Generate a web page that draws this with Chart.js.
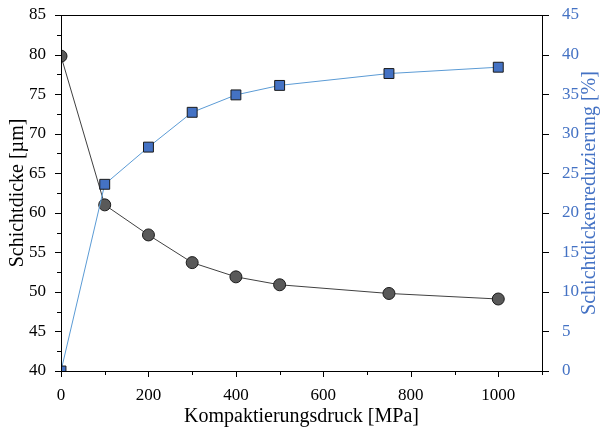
<!DOCTYPE html>
<html><head><meta charset="utf-8">
<script src="https://cdn.jsdelivr.net/npm/chart.js@4/dist/chart.umd.min.js"></script>
<style>html,body{margin:0;padding:0;background:#fff}#wrap{width:600px;height:427px}</style>
</head><body><div id="wrap"><canvas id="c" width="600" height="427"></canvas></div>
<script>
const pressure = [0, 100, 200, 300, 400, 500, 750, 1000];
const thickness = [79.8, 61.0, 57.2, 53.7, 51.9, 50.9, 49.8, 49.1];
const reduction = [0, 23.6, 28.3, 32.7, 34.9, 36.1, 37.6, 38.4];
const xTickLabels = [0, 200, 400, 600, 800, 1000];
const leftTickLabels = [40, 45, 50, 55, 60, 65, 70, 75, 80, 85];
const rightTickLabels = [0, 5, 10, 15, 20, 25, 30, 35, 40, 45];
const rightTitle = 'Schichtdickenreduzierung [%]';

const FONT = "'Liberation Serif','Times New Roman',serif";
const BLUE_TXT = '#4472C4';

const tickPlugin = {
  id: 'ticksBox',
  afterDraw(chart) {
    const ctx = chart.ctx, a = chart.chartArea;
    ctx.save();
    ctx.strokeStyle = '#000';
    ctx.lineWidth = 1;
    ctx.strokeRect(a.left + 0.5, a.top + 0.5, a.right - a.left, a.bottom - a.top);
    const xs = chart.scales.x;
    xs.ticks.forEach(t => {
      const px = Math.round(xs.getPixelForValue(t.value)) + 0.5;
      const len = xTickLabels.includes(t.value) ? 6 : 4;
      ctx.beginPath(); ctx.moveTo(px, a.bottom); ctx.lineTo(px, a.bottom + len); ctx.stroke();
    });
    const yl = chart.scales.y;
    yl.ticks.forEach(t => {
      const py = Math.round(yl.getPixelForValue(t.value)) + 0.5;
      const len = leftTickLabels.includes(t.value) ? 6 : 4;
      ctx.beginPath(); ctx.moveTo(a.left, py); ctx.lineTo(a.left - len, py); ctx.stroke();
    });
    const yr = chart.scales.y2;
    yr.ticks.forEach(t => {
      const py = Math.round(yr.getPixelForValue(t.value)) + 0.5;
      ctx.beginPath(); ctx.moveTo(a.right + 1, py); ctx.lineTo(a.right + 7, py); ctx.stroke();
    });
    // right axis title, reading bottom-to-top
    ctx.translate(590, (a.top + a.bottom) / 2);
    ctx.rotate(-Math.PI / 2);
    ctx.fillStyle = BLUE_TXT;
    ctx.font = "20px " + FONT;
    ctx.textAlign = 'center';
    ctx.textBaseline = 'middle';
    ctx.fillText(rightTitle, 0, 0);
    ctx.restore();
  }
};

function fixV(w) {
  return s => { s.width = w; s.paddingTop = 0; s.paddingBottom = 0; };
}

new Chart(document.getElementById('c'), {
  type: 'scatter',
  data: {
    datasets: [
      {
        label: 'Schichtdicke',
        data: pressure.map((p, i) => ({x: p, y: thickness[i]})),
        yAxisID: 'y',
        showLine: true,
        borderColor: '#404040',
        borderWidth: 1,
        pointStyle: 'circle',
        pointRadius: 6,
        pointBackgroundColor: '#595959',
        pointBorderColor: '#1a1a1a',
        pointBorderWidth: 1,
        order: 2
      },
      {
        label: 'Schichtdickenreduzierung',
        data: pressure.map((p, i) => ({x: p, y: reduction[i]})),
        yAxisID: 'y2',
        showLine: true,
        borderColor: '#5B9BD5',
        borderWidth: 1,
        pointStyle: 'rect',
        pointRadius: 7,
        pointBackgroundColor: '#4472C4',
        pointBorderColor: '#1a1a1a',
        pointBorderWidth: 1,
        order: 1
      }
    ]
  },
  options: {
    responsive: false,
    animation: false,
    devicePixelRatio: 1,
    layout: {padding: {top: 15, left: 0, right: 0, bottom: 0}},
    plugins: {legend: {display: false}, tooltip: {enabled: false}},
    scales: {
      x: {
        type: 'linear', min: 0, max: 1100,
        grid: {display: false},
        border: {display: false},
        ticks: {
          stepSize: 100, autoSkip: false, maxRotation: 0, padding: 6,
          color: '#000', font: {family: FONT, size: 17},
          callback: v => xTickLabels.includes(v) ? String(v) : ''
        },
        title: {display: true, text: 'Kompaktierungsdruck [MPa]', color: '#000',
                font: {family: FONT, size: 20}, padding: {top: 2, bottom: -2}},
        afterFit: s => { s.height = 56; s.paddingLeft = 0; s.paddingRight = 0; }
      },
      y: {
        type: 'linear', position: 'left', min: 40, max: 85,
        grid: {display: false},
        border: {display: false},
        ticks: {
          stepSize: 2.5, autoSkip: false, padding: 7,
          color: '#000', font: {family: FONT, size: 17},
          callback: v => leftTickLabels.includes(v) ? String(v) : ''
        },
        title: {display: true, text: 'Schichtdicke [µm]', color: '#000',
                font: {family: FONT, size: 20}, padding: {top: 6, bottom: 0}},
        afterFit: fixV(61)
      },
      y2: {
        type: 'linear', position: 'right', min: 0, max: 45,
        grid: {display: false},
        border: {display: false},
        ticks: {
          stepSize: 5, autoSkip: false, padding: 12,
          color: BLUE_TXT, font: {family: FONT, size: 17},
          callback: v => rightTickLabels.includes(v) ? String(v) : ''
        },
        title: {display: false},
        afterFit: fixV(58)
      }
    }
  },
  plugins: [tickPlugin]
});
</script>
</body></html>
